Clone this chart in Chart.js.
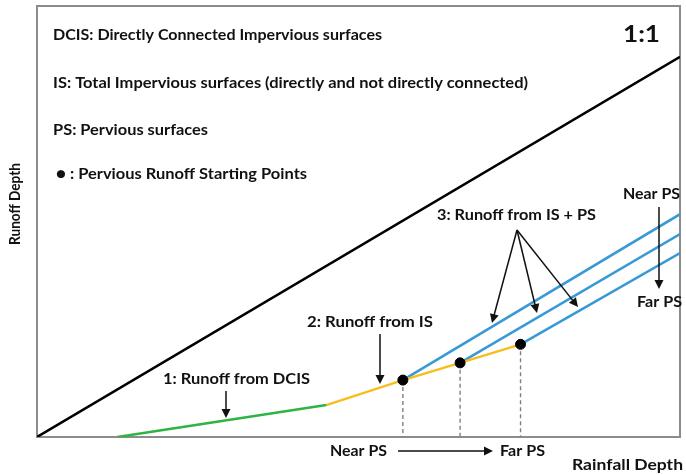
<!DOCTYPE html>
<html>
<head>
<meta charset="utf-8">
<script src="https://cdn.jsdelivr.net/npm/chart.js@4/dist/chart.umd.min.js"></script>
<style>
  body { margin: 0; background: #fff; }
  canvas { display: block; }
</style>
</head>
<body>
<canvas id="runoffChart" width="686" height="475"></canvas>
<script>
// conceptual runoff diagram, axes are relative (rainfall 0-100, runoff 0-100)
const oneToOne = [[0, 0], [100, 88.2]];
const dcisRunoff = [[12.5, 0], [45.0, 7.4]];
const isRunoff = [[45.0, 7.4], [56.9, 13.2], [65.8, 17.2], [75.2, 21.5]];
const psNames = ['Near PS', 'Mid PS', 'Far PS'];
const psStart = [[56.9, 13.2], [65.8, 17.2], [75.2, 21.5]];
const psEndRunoff = [51.7, 47.1, 42.7]; // runoff at rainfall = 100

const toPts = arr => arr.map(p => ({ x: p[0], y: p[1] }));

const datasets = [
    {
        label: 'Pervious runoff starting points',
        data: toPts(psStart),
        showLine: false,
        pointRadius: 5,
        pointBackgroundColor: '#000',
        pointBorderColor: '#000'
    },
    {
        label: '1:1',
        data: toPts(oneToOne),
        borderColor: '#000',
        borderWidth: 2.5
    },
    {
        label: '1: Runoff from DCIS',
        data: toPts(dcisRunoff),
        borderColor: '#2db445',
        borderWidth: 2.5
    },
    {
        label: '2: Runoff from IS',
        data: toPts(isRunoff),
        borderColor: '#f8bd1c',
        borderWidth: 2.2
    }
];

psStart.forEach((p, i) => {
    datasets.push({
        label: '3: ' + psNames[i],
        data: toPts([p, [100, psEndRunoff[i]]]),
        borderColor: '#3899d6',
        borderWidth: 2.5
    });
    datasets.push({
        label: psNames[i] + ' start',
        data: toPts([p, [p[0], 0]]),
        borderColor: '#808080',
        borderWidth: 1.4,
        borderDash: [4, 3]
    });
});

datasets.forEach(d => {
    d.showLine = d.showLine !== false;
    if (d.pointRadius === undefined) d.pointRadius = 0;
});

// text helper: bold label squeezed/stretched to the measured width
function label(ctx, str, x, y, width, size) {
    ctx.save();
    ctx.font = 'bold ' + (size || 16) + 'px Lato, "Open Sans", sans-serif';
    ctx.textBaseline = 'middle';
    ctx.fillStyle = '#111';
    const w = ctx.measureText(str).width;
    ctx.translate(x, y);
    ctx.scale(width / w, 1);
    ctx.fillText(str, 0, 0);
    ctx.restore();
}

function arrow(ctx, x1, y1, x2, y2) {
    const a = Math.atan2(y2 - y1, x2 - x1);
    const len = 9, half = 4.5;
    ctx.save();
    ctx.strokeStyle = '#111';
    ctx.fillStyle = '#111';
    ctx.lineWidth = 1.5;
    ctx.beginPath();
    ctx.moveTo(x1, y1);
    ctx.lineTo(x2 - Math.cos(a) * len * 0.8, y2 - Math.sin(a) * len * 0.8);
    ctx.stroke();
    ctx.beginPath();
    ctx.moveTo(x2, y2);
    ctx.lineTo(x2 - Math.cos(a) * len + Math.sin(a) * half, y2 - Math.sin(a) * len - Math.cos(a) * half);
    ctx.lineTo(x2 - Math.cos(a) * len - Math.sin(a) * half, y2 - Math.sin(a) * len + Math.cos(a) * half);
    ctx.closePath();
    ctx.fill();
    ctx.restore();
}

const diagramPlugin = {
    id: 'diagram',
    beforeDatasetsDraw(chart) {
        const { ctx, chartArea: a } = chart;
        ctx.save();
        ctx.strokeStyle = '#8c8c8c';
        ctx.lineWidth = 2;
        ctx.strokeRect(a.left, a.top, a.right - a.left, a.bottom - a.top);
        ctx.restore();
    },
    afterDraw(chart) {
        const ctx = chart.ctx;
        label(ctx, 'DCIS: Directly Connected Impervious surfaces', 53, 35, 329);
        label(ctx, 'IS: Total Impervious surfaces (directly and not directly connected)', 53, 83, 475);
        label(ctx, 'PS: Pervious surfaces', 53, 130, 155);
        label(ctx, '\u25CF : Pervious Runoff Starting Points', 56, 174, 251);
        label(ctx, '1:1', 623, 35, 37, 23);

        label(ctx, '1: Runoff from DCIS', 163, 379, 147);
        arrow(ctx, 226, 391, 226, 418);
        label(ctx, '2: Runoff from IS', 307, 322, 126);
        arrow(ctx, 380, 334, 380, 384);
        label(ctx, '3: Runoff from IS + PS', 437, 215, 159);
        arrow(ctx, 517, 230, 492, 323);
        arrow(ctx, 517, 230, 537, 313);
        arrow(ctx, 517, 230, 578, 307);

        label(ctx, 'Near PS', 623, 194, 57);
        arrow(ctx, 659, 207, 659, 289);
        label(ctx, 'Far PS', 637, 302, 45);

        label(ctx, 'Near PS', 330, 451, 57);
        arrow(ctx, 398, 451, 493, 451);
        label(ctx, 'Far PS', 500, 451, 45);
        label(ctx, 'Rainfall Depth', 572, 465, 111);

        ctx.save();
        ctx.translate(15, 245);
        ctx.rotate(-Math.PI / 2);
        label(ctx, 'Runoff Depth', 0, 0, 82);
        ctx.restore();
    }
};

new Chart(document.getElementById('runoffChart').getContext('2d'), {
    type: 'scatter',
    data: { datasets: datasets },
    options: {
        responsive: false,
        animation: false,
        layout: { padding: { left: 37, top: 4, right: 2, bottom: 38 } },
        plugins: {
            legend: { display: false },
            tooltip: { enabled: false }
        },
        scales: {
            x: { type: 'linear', min: 0, max: 100, display: false },
            y: { type: 'linear', min: 0, max: 100, display: false }
        }
    },
    plugins: [diagramPlugin]
});
</script>
</body>
</html>
